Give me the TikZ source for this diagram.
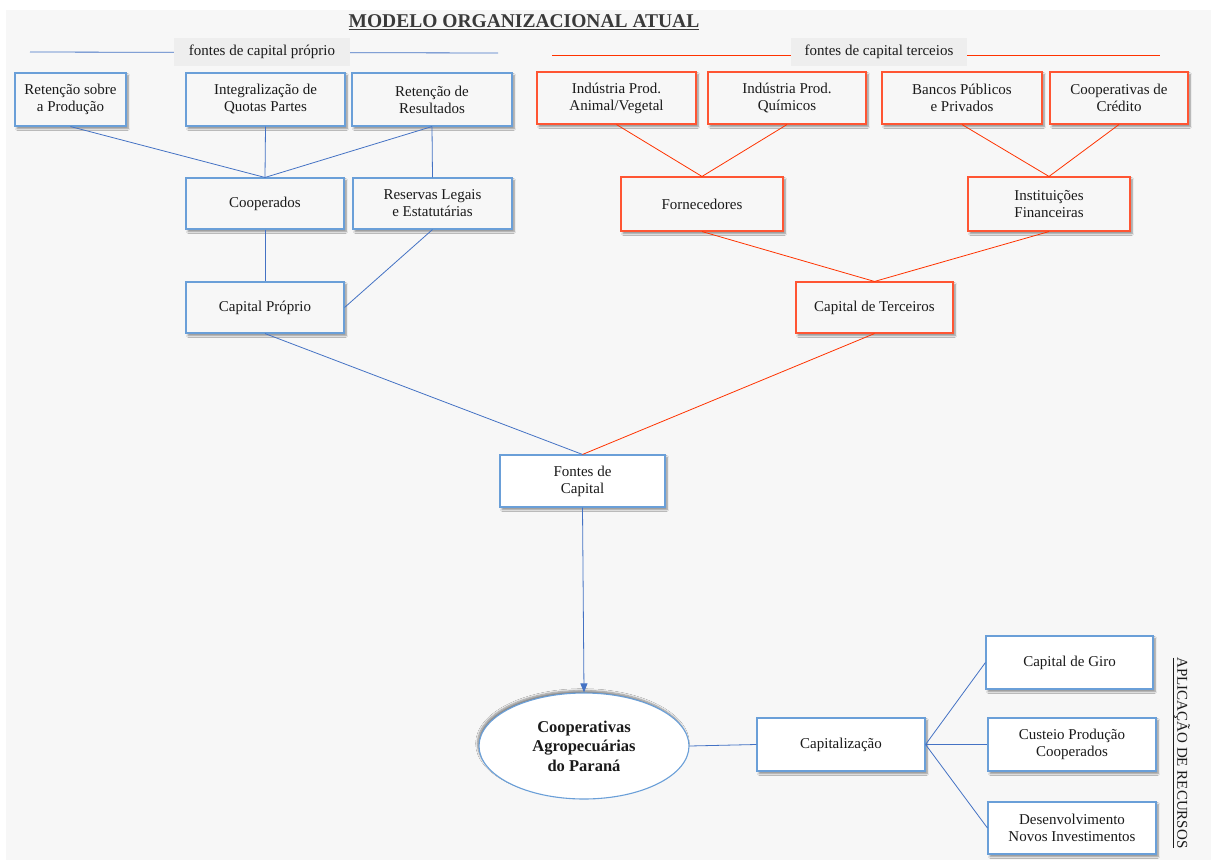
\documentclass[tikz,border=0pt]{standalone}
\usepackage{fontspec}
\setmainfont{Liberation Serif}
\usetikzlibrary{shapes.geometric,arrows.meta,shadows.blur}
\definecolor{bgpage}{HTML}{F7F7F7}
\definecolor{labelbg}{HTML}{EEEEEE}
\definecolor{boxblue}{HTML}{6A9FD8}
\definecolor{lineblue}{HTML}{4472C4}
\definecolor{boxred}{HTML}{FF5533}
\definecolor{linered}{HTML}{FF3300}
\definecolor{titlegray}{HTML}{3A3A3A}
\definecolor{txt}{HTML}{1A1A1A}
\tikzset{
  basebox/.style={rectangle, line width=1.1pt, align=center, text=txt,
    inner sep=2pt, font=\fontsize{15}{17}\selectfont,
    blur shadow={shadow xshift=2pt, shadow yshift=-2.5pt, shadow blur steps=6, shadow opacity=45}},
  bbox/.style={basebox, draw=boxblue, fill=bgpage},
  rbox/.style={basebox, draw=boxred, fill=bgpage},
  wbox/.style={basebox, draw=boxblue, fill=white},
  bline/.style={draw=lineblue, line width=0.8pt},
  rline/.style={draw=linered, line width=0.8pt},
  hdrlabel/.style={rectangle, fill=labelbg, text=txt, minimum width=176pt, minimum height=28pt,
    inner sep=0pt, font=\fontsize{15}{17}\selectfont},
}
\begin{document}
\begin{tikzpicture}[x=1pt,y=-1pt]
\useasboundingbox (0,0) rectangle (1211,860);
\fill[white] (0,0) rectangle (1211,860);
\fill[bgpage] (6,10) rectangle (1211,860);

% title
\node[font=\fontsize{19.5}{22}\selectfont\bfseries, text=titlegray] (title) at (524,22) {\underline{MODELO ORGANIZACIONAL ATUAL}};

% section headers
\coordinate (bl1) at (30,52);
\coordinate (bl2) at (498,53);
\draw[bline] (bl1) -- (bl2);
\node[hdrlabel] (hdrown) at (262,52) {fontes de capital próprio};
\coordinate (rl1) at (552,55);
\coordinate (rl2) at (1160,55);
\draw[rline] (rl1) -- (rl2);
\node[hdrlabel] (hdrthird) at (879,52) {fontes de capital terceios};

% own capital sources
\node[bbox, minimum width=111pt, minimum height=53pt] (b1) at (70.5,99.5) {Retenção sobre\\a Produção};
\node[bbox, minimum width=159pt, minimum height=53pt] (b2) at (265.5,99.5) {Integralização de\\Quotas Partes};
\node[bbox, minimum width=160pt, minimum height=53pt] (b3) at (432,99.5) {Retenção de\\Resultados};
\node[bbox, minimum width=158pt, minimum height=51pt] (coop) at (265,203.5) {Cooperados};
\node[bbox, minimum width=159pt, minimum height=51pt] (res) at (432.5,203.5) {Reservas Legais\\e Estatutárias};
\node[bbox, minimum width=158pt, minimum height=51pt] (capp) at (265,307.5) {Capital Próprio};

% third-party capital sources
\node[rbox, minimum width=159pt, minimum height=52pt] (r1) at (616.5,98) {Indústria Prod.\\Animal/Vegetal};
\node[rbox, minimum width=158pt, minimum height=52pt] (r2) at (787,98) {Indústria Prod.\\Químicos};
\node[rbox, minimum width=160pt, minimum height=52pt] (r3) at (962,98) {Bancos Públicos\\e Privados};
\node[rbox, minimum width=138pt, minimum height=52pt] (r4) at (1119,98) {Cooperativas de\\Crédito};
\node[rbox, minimum width=162pt, minimum height=54pt] (forn) at (702,204) {Fornecedores};
\node[rbox, minimum width=162pt, minimum height=54pt] (inst) at (1049,204) {Instituições\\Financeiras};
\node[rbox, minimum width=157pt, minimum height=51pt] (capt) at (874.5,307.5) {Capital de Terceiros};

% centre
\node[wbox, minimum width=165pt, minimum height=52pt] (fontes) at (582.5,481) {Fontes de\\Capital};
\node[ellipse, draw=boxblue, fill=white, line width=1.1pt, minimum width=210pt, minimum height=106pt,
  inner sep=0pt, align=center, text=txt, font=\fontsize{16.5}{19.5}\selectfont\bfseries,
  blur shadow={shadow xshift=-1.5pt, shadow yshift=2.5pt, shadow blur steps=6, shadow opacity=45}]
  (coopag) at (584,746) {Cooperativas\\Agropecuárias\\do Paraná};
\node[wbox, minimum width=168pt, minimum height=53pt] (capz) at (841,744.5) {Capitalização};

% resource allocation
\node[wbox, minimum width=167pt, minimum height=53pt] (giro) at (1069.5,662.5) {Capital de Giro};
\node[wbox, minimum width=168pt, minimum height=53pt] (custeio) at (1072,744.5) {Custeio Produção\\Cooperados};
\node[wbox, minimum width=168pt, minimum height=52pt] (desenv) at (1072,828) {Desenvolvimento\\Novos Investimentos};
\node[rotate=-90, text=txt, font=\fontsize{15}{17}\selectfont] (aplic) at (1181,753) {\underline{APLICAÇÃO DE RECURSOS}};

% blue connectors
\draw[bline] (b1.south) -- (coop.north);
\draw[bline] (b2.south) -- (coop.north);
\draw[bline] (b3.south) -- (coop.north);
\draw[bline] (b3.south) -- (res.north);
\draw[bline] (coop.south) -- (capp.north);
\draw[bline] (res.south) -- (capp.east);
\draw[bline] (capp.south) -- (fontes.north);
\draw[bline, -{Triangle[length=9pt,width=7pt]}] (fontes.south) -- (coopag.north);
\draw[bline] (coopag.east) -- (capz.west);
\draw[bline] (capz.east) -- (giro.west);
\draw[bline] (capz.east) -- (custeio.west);
\draw[bline] (capz.east) -- (desenv.west);

% red connectors
\draw[rline] (r1.south) -- (forn.north);
\draw[rline] (r2.south) -- (forn.north);
\draw[rline] (r3.south) -- (inst.north);
\draw[rline] (r4.south) -- (inst.north);
\draw[rline] (forn.south) -- (capt.north);
\draw[rline] (inst.south) -- (capt.north);
\draw[rline] (capt.south) -- (fontes.north);
\end{tikzpicture}
\end{document}
